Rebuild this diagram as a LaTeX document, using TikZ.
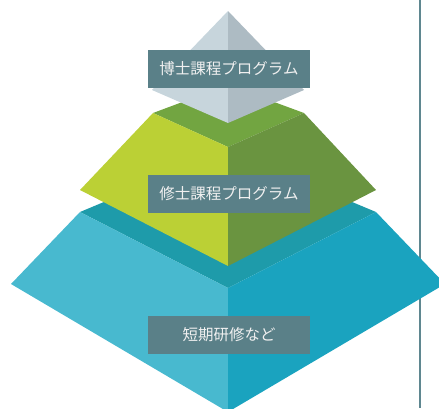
\documentclass[tikz,border=0pt]{standalone}
\usepackage{fontspec}
\newfontfamily\jpfont{Noto Sans CJK JP}
\definecolor{lbl}{HTML}{5A8088}
\definecolor{grayL}{HTML}{C7D5DC}
\definecolor{grayR}{HTML}{ADBBC3}
\definecolor{greenT}{HTML}{72A541}
\definecolor{greenL}{HTML}{BBD035}
\definecolor{greenR}{HTML}{6A9440}
\definecolor{blueT}{HTML}{1E9BAA}
\definecolor{blueL}{HTML}{48B9CF}
\definecolor{blueR}{HTML}{1AA3BF}
\definecolor{rule}{HTML}{5F8790}
\begin{document}
\begin{tikzpicture}[x=1pt,y=-1pt,
  label box/.style={fill=lbl, text=white!94!black, minimum width=162pt, minimum height=38pt,
    inner sep=0pt, font=\jpfont\fontsize{15.5pt}{18pt}\selectfont}]
\useasboundingbox (0,0) rectangle (439,408);
\clip (0,0) rectangle (439,408);
% right rule
\draw[rule, line width=2pt] (420,0) -- (420,408);
% bottom (blue) layer
\fill[blueT] (80,212) -- (228,150) -- (376,212) -- (228,288) -- cycle;
\fill[blueL] (80,212) -- (228,288) -- (228,412) -- (11,284) -- cycle;
\fill[blueR] (376,212) -- (228,288) -- (228,412) -- (445,284) -- cycle;
% middle (green) layer
\fill[greenT] (153,113) -- (228,85) -- (304,113) -- (228,147) -- cycle;
\fill[greenL] (153,113) -- (228,147) -- (228,266) -- (80,190) -- cycle;
\fill[greenR] (304,113) -- (228,147) -- (228,266) -- (376,190) -- cycle;
% top (gray) layer
\fill[grayL] (228,11) -- (152,90) -- (228,123) -- cycle;
\fill[grayR] (228,11) -- (304,90) -- (228,123) -- cycle;
% labels
\node[label box] (phd) at (229,69) {博士課程プログラム};
\node[label box] (ms) at (229,194) {修士課程プログラム};
\node[label box] (short) at (229,335) {短期研修など};
\end{tikzpicture}
\end{document}
